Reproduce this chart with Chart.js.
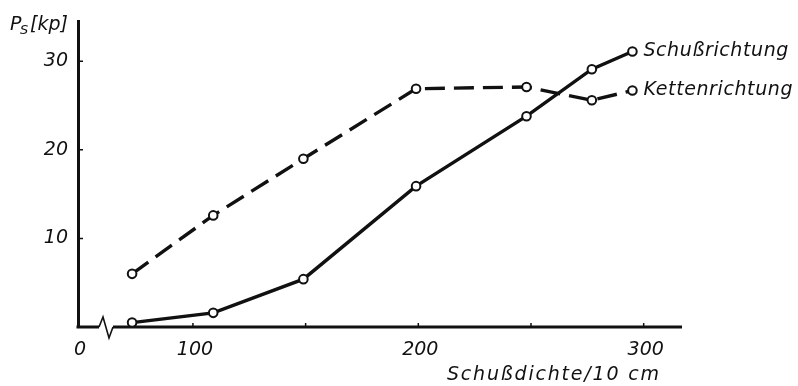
<!DOCTYPE html>
<html>
<head>
<meta charset="utf-8">
<script src="https://cdn.jsdelivr.net/npm/chart.js@4.4.1/dist/chart.umd.min.js"></script>
<style>
  html, body { margin: 0; padding: 0; background: #fff; }
</style>
</head>
<body>
<canvas id="chart" width="798" height="386"></canvas>
<script>
// values
const DENSITY = [73, 109, 149, 199, 248, 277, 295];
const SCHUSS = [0.5, 1.6, 5.4, 15.9, 23.8, 29.1, 31.1];
const KETTE = [6.0, 12.6, 19.0, 26.9, 27.1, 25.6, 26.7];
const SERIES_NAMES = ['Schußrichtung', 'Kettenrichtung'];

const X_ORIGIN = 49;          // axis is broken, origin is labelled 0
const X_MAX = 317;
const X_TICKS = [100, 150, 200, 250, 300];
const X_LABELED = [100, 200, 300];
const Y_TICKS = [10, 20, 30];
const Y_MAX = 34.5;
const X_TITLE = 'Schußdichte/10 cm';
const Y_TITLE = ['P', 'S', ' [kp]'];

const INK = '#111';
const FONT = 'DejaVu Sans';

function points(ys) {
  return DENSITY.map((x, i) => ({ x: x, y: ys[i] }));
}

// axis line with break, inward ticks, titles and end labels
const decor = {
  id: 'decor',
  beforeDatasetsDraw(chart) {
    const ctx = chart.ctx;
    const xs = chart.scales.x, ys = chart.scales.y;
    const y0 = ys.getPixelForValue(0);
    const x0 = xs.getPixelForValue(X_ORIGIN);
    ctx.save();
    ctx.strokeStyle = INK;
    ctx.lineCap = 'butt';
    // x axis, broken near origin
    ctx.lineWidth = 3;
    ctx.beginPath();
    ctx.moveTo(x0 - 1.5, y0);
    ctx.lineTo(x0 + 21, y0);
    ctx.moveTo(x0 + 35, y0);
    ctx.lineTo(xs.right, y0);
    ctx.stroke();
    ctx.lineWidth = 1.6;
    ctx.beginPath();
    ctx.moveTo(x0 + 21, y0);
    ctx.lineTo(x0 + 25, y0 - 10);
    ctx.lineTo(x0 + 31, y0 + 11);
    ctx.lineTo(x0 + 35, y0);
    ctx.stroke();
    // inward tick marks
    ctx.lineWidth = 1.5;
    ctx.beginPath();
    X_TICKS.forEach(v => {
      const px = xs.getPixelForValue(v);
      ctx.moveTo(px, y0);
      ctx.lineTo(px, y0 - 4);
    });
    Y_TICKS.forEach(v => {
      const py = ys.getPixelForValue(v);
      ctx.moveTo(x0, py);
      ctx.lineTo(x0 + 5, py);
    });
    ctx.stroke();
    ctx.restore();
  },
  afterDraw(chart) {
    const ctx = chart.ctx;
    ctx.save();
    ctx.fillStyle = INK;
    ctx.textBaseline = 'alphabetic';
    // y title
    ctx.font = 'italic 19px ' + FONT;
    ctx.fillText(Y_TITLE[0], 10, 30);
    ctx.font = 'italic 13px ' + FONT;
    ctx.fillText(Y_TITLE[1], 20, 34);
    ctx.font = 'italic 19px ' + FONT;
    ctx.fillText(Y_TITLE[2], 24, 30);
    // x title
    ctx.letterSpacing = '1.8px';
    ctx.fillText(X_TITLE, 447, 380);
    // labels at end of each line
    ctx.letterSpacing = '0.6px';
    ctx.textBaseline = 'middle';
    chart.data.datasets.forEach((ds, i) => {
      const pts = chart.getDatasetMeta(i).data;
      const last = pts[pts.length - 1];
      ctx.fillText(SERIES_NAMES[i], last.x + 11, last.y);
    });
    ctx.restore();
  }
};

new Chart(document.getElementById('chart'), {
  type: 'line',
  data: {
    datasets: [
      {
        label: SERIES_NAMES[0],
        data: points(SCHUSS),
        borderColor: INK,
        borderWidth: 3.4,
        pointRadius: 4.3,
        pointBorderWidth: 2,
        pointBackgroundColor: '#fff',
        pointBorderColor: INK,
        tension: 0
      },
      {
        label: SERIES_NAMES[1],
        data: points(KETTE),
        borderColor: INK,
        borderWidth: 3.4,
        borderDash: [20, 9],
        pointRadius: 4.3,
        pointBorderWidth: 2,
        pointBackgroundColor: '#fff',
        pointBorderColor: INK,
        tension: 0
      }
    ]
  },
  options: {
    responsive: false,
    animation: false,
    layout: { padding: { top: 13, right: 116, bottom: 0, left: 0 } },
    plugins: {
      legend: { display: false },
      tooltip: { enabled: false }
    },
    scales: {
      x: {
        type: 'linear',
        min: X_ORIGIN,
        max: X_MAX,
        afterBuildTicks: (scale) => {
          scale.ticks = [X_ORIGIN].concat(X_LABELED).map(v => ({ value: v }));
        },
        afterFit: (scale) => { scale.height = 59; },
        grid: { display: false, drawTicks: false },
        border: { display: false },
        ticks: {
          color: INK,
          font: { family: FONT, size: 19, style: 'italic' },
          padding: 12,
          labelOffset: 2,
          maxRotation: 0,
          autoSkip: false,
          callback: (v) => v === X_ORIGIN ? '0' : String(v)
        }
      },
      y: {
        type: 'linear',
        min: 0,
        max: Y_MAX,
        afterBuildTicks: (scale) => {
          scale.ticks = Y_TICKS.map(v => ({ value: v }));
        },
        afterFit: (scale) => { scale.width = 78; },
        grid: { display: false, drawTicks: false },
        border: { display: true, color: INK, width: 3 },
        ticks: {
          color: INK,
          font: { family: FONT, size: 19, style: 'italic' },
          padding: 10
        }
      }
    }
  },
  plugins: [decor]
});
</script>
</body>
</html>
